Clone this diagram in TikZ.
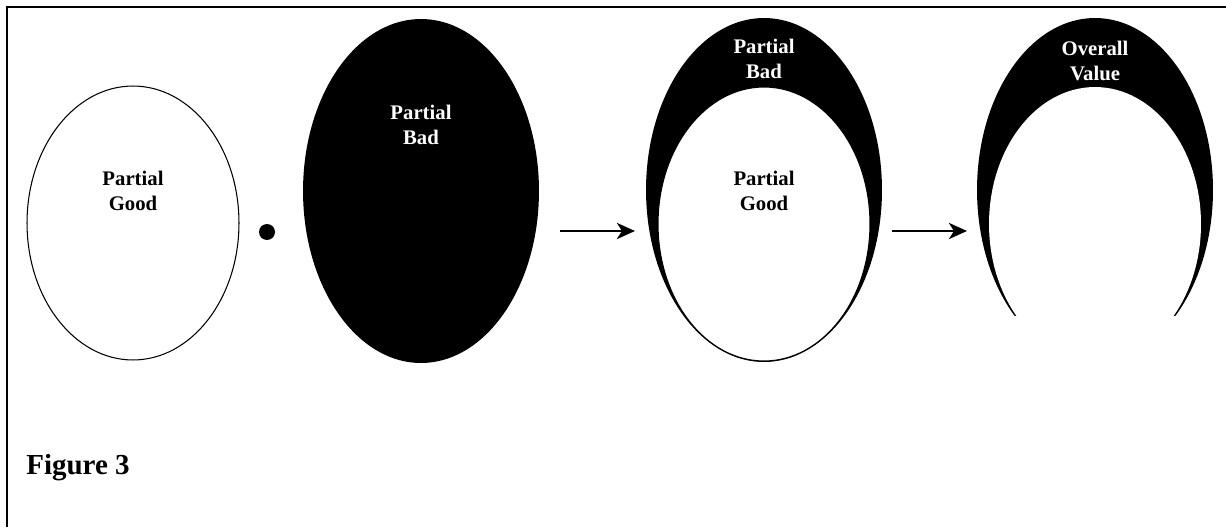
\documentclass[tikz,border=0pt]{standalone}
\usepackage{fontspec}
\setmainfont{Liberation Serif}
\usetikzlibrary{shapes.geometric,arrows.meta}
\begin{document}
\begin{tikzpicture}[x=0.02cm, y=-0.02cm, good/.style = {draw, ellipse, line width=0.6pt, fill=white, inner sep=0, minimum width=4.24cm, minimum height=5.48cm}, bad/.style = {ellipse, fill=black, inner sep=0, minimum width=4.72cm, minimum height=6.88cm}, lbl/.style = {align=center, inner sep=0, anchor=north, font=\fontsize{11.8}{14.2}\selectfont\bfseries}, arr/.style = {line width=1.7pt, -{Stealth[length=3.6mm, width=3.2mm, inset=1mm]}}]
\useasboundingbox (0,0) rectangle (1226,527);
\draw[line width=1.2pt] (7,527) -- (7,7) -- (1226,7);

\node[good] (g1) at (133,223) {};
\node[lbl] (t1) at (133,171) {Partial\\Good};
\node[circle, fill, inner sep=0, minimum size=0.32cm] (dot) at (267,232) {};
\node[bad] (b2) at (421,191) {};
\node[lbl, white] (t2) at (421,105) {Partial\\Bad};

\coordinate (a1) at (560,231);
\coordinate (a2) at (635,231);
\draw[arr] (a1) -- (a2);

\node[bad] (b3) at (764,190) {};
\node[good] (g3) at (764,224) {};
\node[lbl, white] (t3) at (764,39) {Partial\\Bad};
\node[lbl] (t4) at (764,171) {Partial\\Good};

\coordinate (a3) at (892,231);
\coordinate (a4) at (967,231);
\draw[arr] (a3) -- (a4);

\begin{scope}
\clip (960,0) rectangle (1226,315);
\node[bad] (b4) at (1095,190) {};
\node[good, draw=none] (g4) at (1095,224) {};
\end{scope}
\node[lbl, white] (t5) at (1095,41) {Overall\\Value};

\node[font=\fontsize{16.5}{18}\selectfont\bfseries, anchor=base west, inner sep=0] (fig) at (26,474) {Figure 3};
\end{tikzpicture}
\end{document}
